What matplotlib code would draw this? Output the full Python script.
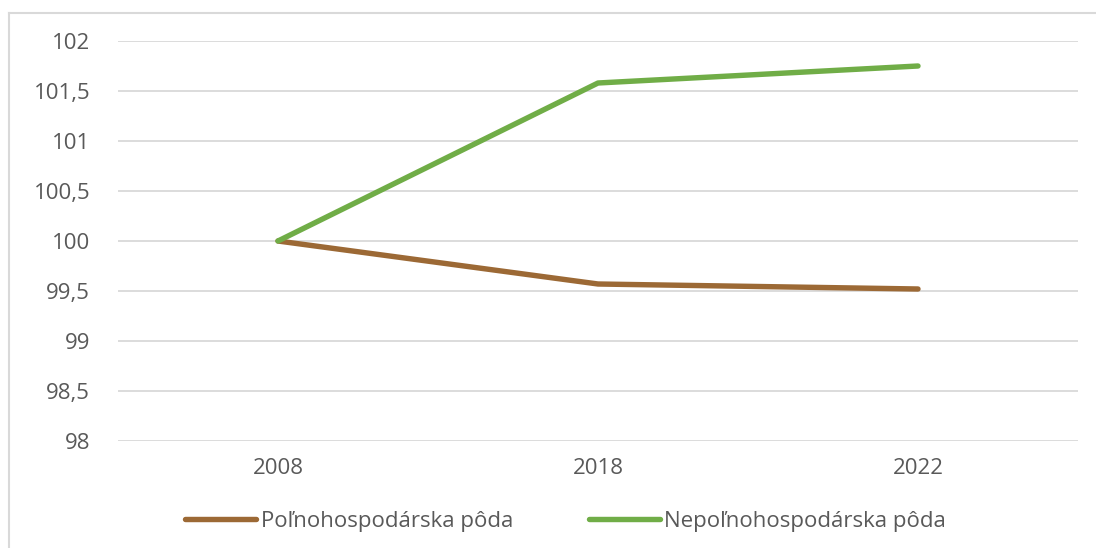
import matplotlib.pyplot as plt
from matplotlib.lines import Line2D

plt.rcParams["font.family"] = ["Open Sans", "DejaVu Sans"]

# index values, 2008 = 100
years = ["2008", "2018", "2022"]
pol_poda = [100.0, 99.57, 99.52]
nepol_poda = [100.0, 101.58, 101.75]

y_ticks = [98, 98.5, 99, 99.5, 100, 100.5, 101, 101.5, 102]
y_labels = ["98", "98,5", "99", "99,5", "100", "100,5", "101", "101,5", "102"]

BROWN = "#9C6935"
GREEN = "#70AD47"
GRID = "#D9D9D9"
TEXT = "#595959"
FS = 16

fig = plt.figure(figsize=(10.96, 5.48), dpi=100)
ax = fig.add_axes([118 / 1096, 1 - 441 / 548, 960 / 1096, 400 / 548])

x = range(len(years))
ax.plot(x, pol_poda, color=BROWN, lw=3.9, solid_capstyle="round",
        label="Poľnohospodárska pôda")
ax.plot(x, nepol_poda, color=GREEN, lw=3.9, solid_capstyle="round",
        label="Nepoľnohospodárska pôda")

ax.set_xlim(-0.5, 2.5)
ax.set_ylim(98, 102)
ax.set_xticks(list(x))
ax.set_xticklabels(years)
ax.set_yticks(y_ticks)
ax.set_yticklabels(y_labels)

ax.grid(axis="y", color=GRID, lw=1.3)
ax.set_axisbelow(True)
for s in ax.spines.values():
    s.set_visible(False)
ax.tick_params(length=0, labelsize=FS, labelcolor=TEXT)
ax.tick_params(axis="y", pad=20)
ax.tick_params(axis="x", pad=12)

# outer chart frame (top and left edges visible)
fig.add_artist(Line2D([9 / 1096, 9 / 1096], [0, 1 - 13 / 548],
                      transform=fig.transFigure, color=GRID, lw=1.5))
fig.add_artist(Line2D([9 / 1096, 1], [1 - 13 / 548, 1 - 13 / 548],
                      transform=fig.transFigure, color=GRID, lw=1.5))

handles, labels = ax.get_legend_handles_labels()
leg = fig.legend(handles, labels, loc="center", bbox_to_anchor=(0.516, 1 - 521 / 548),
                 ncol=2, frameon=False, fontsize=FS, handlelength=3.2,
                 handletextpad=0.2, columnspacing=3.4)
for t in leg.get_texts():
    t.set_color(TEXT)

fig.savefig("out.png", dpi=100)
